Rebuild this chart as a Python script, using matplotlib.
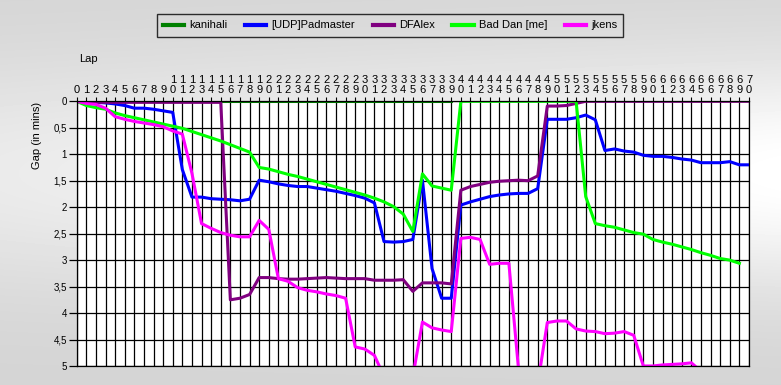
import matplotlib
matplotlib.use("Agg")
import matplotlib.pyplot as plt
import numpy as np

plt.rcParams['font.family'] = ['Liberation Sans', 'DejaVu Sans']

# gap to leader (minutes) per lap
kanihali = [0, 0, 0, 0, 0, 0, 0, 0, 0, 0,
            0, 0, 0, 0, 0, 0, 0, 0, 0, 0,
            0, 0, 0, 0, 0, 0, 0, 0, 0, 0,
            0, 0, 0, 0, 0, 0, 0, 0, 0, 0]

padmaster = [0, 0.01, 0.02, 0.03, 0.05, 0.08, 0.13, 0.13, 0.15, 0.18,
             0.21, 1.29, 1.81, 1.81, 1.84, 1.85, 1.86, 1.88, 1.85, 1.49,
             1.52, 1.56, 1.59, 1.61, 1.61, 1.64, 1.67, 1.70, 1.74, 1.78,
             1.83, 1.92, 2.65, 2.66, 2.65, 2.61, 1.49, 3.16, 3.72, 3.72,
             1.96, 1.90, 1.85, 1.80, 1.77, 1.75, 1.74, 1.74, 1.65, 0.34,
             0.34, 0.34, 0.31, 0.26, 0.35, 0.93, 0.90, 0.94, 0.96, 1.02,
             1.04, 1.04, 1.06, 1.09, 1.11, 1.16, 1.16, 1.16, 1.14, 1.20,
             1.20]

dfalex = [0.01, 0.02, 0.02, 0.02, 0.02, 0.02, 0.02, 0.02, 0.02, 0.02,
          0.02, 0.02, 0.02, 0.02, 0.02, 0.02, 3.75, 3.72, 3.65, 3.33,
          3.33, 3.35, 3.36, 3.36, 3.35, 3.34, 3.33, 3.34, 3.35, 3.35,
          3.35, 3.38, 3.38, 3.38, 3.37, 3.59, 3.43, 3.43, 3.43, 3.45,
          1.68, 1.61, 1.57, 1.53, 1.51, 1.50, 1.49, 1.50, 1.41, 0.09,
          0.09, 0.08, 0.04, 0, 0, 0, 0, 0, 0, 0,
          0, 0, 0, 0, 0, 0, 0, 0, 0, 0,
          0]

bad_dan = [0, 0.08, 0.12, 0.15, 0.22, 0.27, 0.31, 0.35, 0.39, 0.43,
           0.47, 0.51, 0.57, 0.63, 0.69, 0.75, 0.82, 0.89, 0.96, 1.25,
           1.28, 1.33, 1.38, 1.42, 1.47, 1.52, 1.57, 1.62, 1.67, 1.72,
           1.77, 1.83, 1.90, 1.99, 2.13, 2.46, 1.37, 1.60, 1.64, 1.68,
           0, 0, 0, 0, 0, 0, 0, 0, 0, 0,
           0, 0, 0, 1.80, 2.31, 2.35, 2.38, 2.43, 2.48, 2.51,
           2.61, 2.66, 2.70, 2.75, 2.80, 2.86, 2.91, 2.97, 3.00, 3.06]

jkens = [0, 0.04, 0.06, 0.13, 0.29, 0.34, 0.38, 0.41, 0.44, 0.48,
         0.56, 0.62, 1.36, 2.31, 2.40, 2.48, 2.53, 2.56, 2.56, 2.25,
         2.42, 3.35, 3.40, 3.52, 3.57, 3.60, 3.64, 3.67, 3.72, 4.64,
         4.68, 4.80, 5.2, 5.4, 5.4, 5.2, 4.17, 4.28, 4.32, 4.35,
         2.59, 2.57, 2.61, 3.08, 3.06, 3.06, 5.05, 5.3, 5.35, 4.18,
         4.15, 4.15, 4.30, 4.34, 4.35, 4.39, 4.38, 4.35, 4.42, 5.0,
         5.0, 4.98, 4.97, 4.96, 4.94, 5.1]

names = ["kanihali", "[UDP]Padmaster", "DFAlex", "Bad Dan [me]", "jkens"]
colors = ["#008000", "#0000ff", "#800080", "#00ff00", "#ff00ff"]
series = [kanihali, padmaster, dfalex, bad_dan, jkens]

max_lap = 70
y_ticks = [0, 0.5, 1, 1.5, 2, 2.5, 3, 3.5, 4, 4.5, 5]

fig = plt.figure(figsize=(7.81, 3.85), dpi=100)

# grey gradient background like the windows chart control
bg = fig.add_axes([0, 0, 1, 1], zorder=-10)
bg.axis('off')
yy, xx = np.mgrid[0:1:385j, 0:1:781j]
peak = 0.92 + 0.08 * xx
grad = 0.83 + (peak - 0.83) * np.exp(-((yy - 0.45) / 0.3) ** 2)
bg.imshow(grad, cmap='gray', vmin=0, vmax=1, aspect='auto', extent=[0, 1, 0, 1])

ax = fig.add_axes([0.0982, 0.0494, 0.8608, 0.6875])
ax.set_facecolor('white')

lines = []
for name, col, vals in zip(names, colors, series):
    ln, = ax.plot(range(len(vals)), vals, color=col, lw=2.2, label=name,
                  solid_joinstyle='round')
    lines.append(ln)

ax.set_xlim(0, max_lap)
ax.set_ylim(5, 0)

laps = list(range(max_lap + 1))
lap_labels = []
for lap in laps:
    if lap < 10:
        lap_labels.append("\n" + str(lap))
    else:
        lap_labels.append(str(lap // 10) + "\n" + str(lap % 10))
ax.xaxis.tick_top()
ax.set_xticks(laps)
ax.set_xticklabels(lap_labels, fontsize=8, linespacing=1.05)
ax.tick_params(axis='x', direction='out', length=3, width=0.8, pad=1.5)

ax.set_yticks(y_ticks)
ax.set_yticklabels([("%g" % v).replace(".", ",") for v in y_ticks], fontsize=7)
ax.tick_params(axis='y', direction='out', length=6, width=0.9, pad=1)

ax.grid(True, color='black', lw=0.9)
ax.set_axisbelow(True)
for sp in ax.spines.values():
    sp.set_color('black')
    sp.set_linewidth(0.9)

fig.text(79 / 781, 1 - 59 / 385, "Lap", fontsize=8, ha='left', va='center')
fig.text(37 / 781, 1 - 135 / 385, "Gap (in mins)", fontsize=8, rotation=90,
         ha='center', va='center')

leg = fig.legend(handles=lines, ncol=5, loc='center',
                 bbox_to_anchor=(390 / 781, 1 - 25.5 / 385), fontsize=8,
                 frameon=True, fancybox=False, edgecolor='black',
                 facecolor='none', handlelength=1.9, handletextpad=0.45,
                 columnspacing=1.6, borderpad=0.55)
leg.get_frame().set_linewidth(1.0)
for h in leg.legend_handles:
    h.set_linewidth(3)

fig.savefig("out.png", dpi=100)
